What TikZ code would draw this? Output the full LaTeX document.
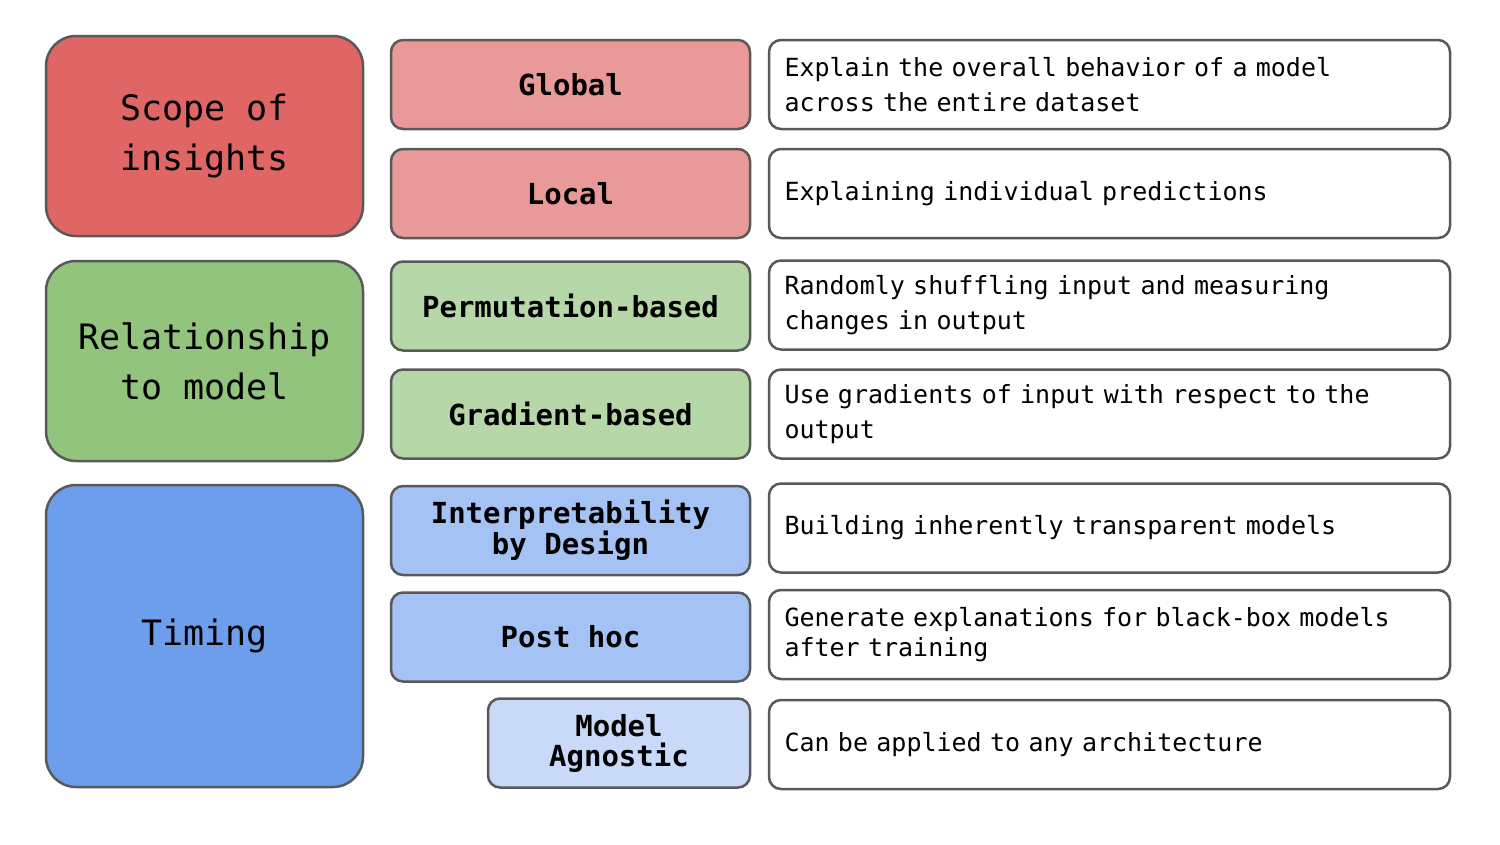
\documentclass[tikz,border=0pt]{standalone}
\usepackage{fontspec}
\setmonofont{DejaVu Sans Mono}[WordSpace={1,0,0}]
\usetikzlibrary{positioning}
\definecolor{redA}{HTML}{E06666}
\definecolor{redB}{HTML}{EA9999}
\definecolor{greenA}{HTML}{93C47D}
\definecolor{greenB}{HTML}{B6D7A8}
\definecolor{blueA}{HTML}{6D9EEB}
\definecolor{blueB}{HTML}{A4C2F4}
\definecolor{blueC}{HTML}{C9DAF8}
\definecolor{edge}{HTML}{595959}
\tikzset{
  box/.style = {draw=edge, line width=2.5pt, align=center, inner sep=0pt},
  catbox/.style = {box, rounded corners=30pt, minimum width=317pt,
    font=\fontsize{35}{50}\selectfont\ttfamily},
  subbox/.style = {box, rounded corners=12pt, minimum height=89pt,
    font=\fontsize{29}{24}\selectfont\ttfamily\bfseries},
  descbox/.style = {box, rounded corners=12pt, minimum width=681pt,
    minimum height=89pt, align=left, text width=650pt,
    font=\fontsize{25}{35}\selectfont\ttfamily},
}
\begin{document}
\begin{tikzpicture}[x=1pt,y=-1pt]
\useasboundingbox (0,0) rectangle (1500,844);
% categories
\node [catbox, fill=redA, minimum height=200pt] (scope) at (204.5,136) {Scope of\\insights};
\node [catbox, fill=greenA, minimum height=200pt] (relation) at (204.5,361) {Relationship\\to model};
\node [catbox, fill=blueA, minimum height=302pt] (timing) at (204.5,636) {Timing};
% sub categories
\node [subbox, fill=redB, minimum width=359pt] (global) at (570.5,84.5) {Global};
\node [subbox, fill=redB, minimum width=359pt] (local) at (570.5,193.5) {Local};
\node [subbox, fill=greenB, minimum width=359pt] (perm) at (570.5,306) {Permutation-based};
\node [subbox, fill=greenB, minimum width=359pt] (grad) at (570.5,414) {Gradient-based};
\node [subbox, fill=blueB, minimum width=359pt] (design) at (570.5,530.5) {Interpretability\\by Design};
\node [subbox, fill=blueB, minimum width=359pt] (posthoc) at (570.5,637) {Post hoc};
\node [subbox, fill=blueC, minimum width=262pt] (agnostic) at (619,743) {Model\\[6pt]Agnostic};
% descriptions
\node [descbox] (dglobal) at (1109.5,84.5) {Explain the overall behavior of a model\\across the entire dataset};
\node [descbox] (dlocal) at (1109.5,193.5) {Explaining individual predictions};
\node [descbox] (dperm) at (1109.5,305) {Randomly shuffling input and measuring\\changes in output};
\node [descbox] (dgrad) at (1109.5,414) {Use gradients of input with respect to the\\output};
\node [descbox] (ddesign) at (1109.5,528) {Building inherently transparent models};
\node [descbox] (dposthoc) at (1109.5,634.5) {Generate explanations for black-box models\\[-5pt]after training};
\node [descbox] (dagnostic) at (1109.5,744.5) {Can be applied to any architecture};
\end{tikzpicture}
\end{document}
